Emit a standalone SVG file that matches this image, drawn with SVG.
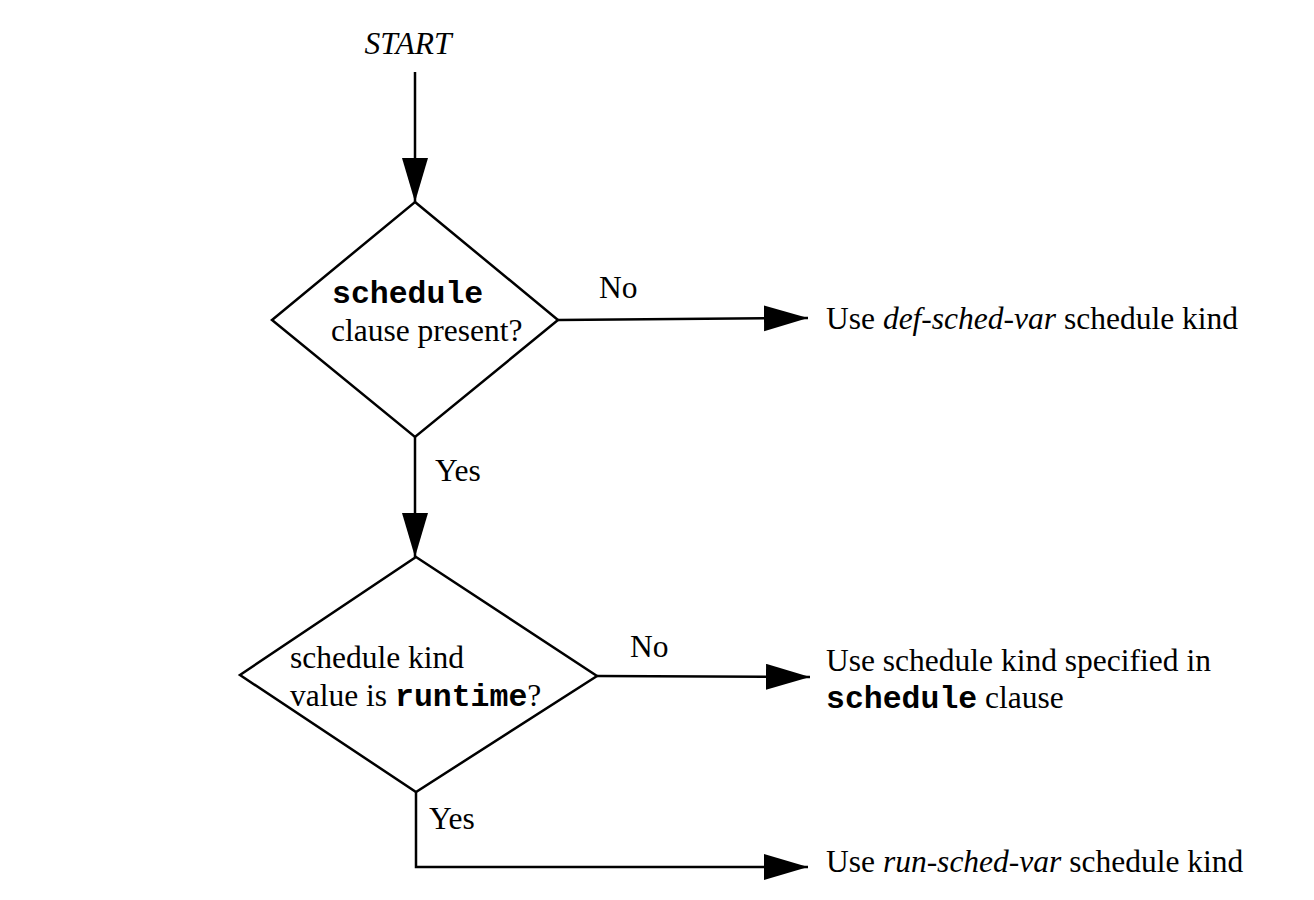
<svg xmlns="http://www.w3.org/2000/svg" width="1314" height="900" viewBox="0 0 1314 900">
<style>
.t{font-family:"Liberation Serif","Times New Roman",serif;font-size:31.5px;fill:#000}
.m{font-family:"Liberation Mono","Courier New",monospace;font-weight:bold}
.i{font-style:italic}
.s{fill:none;stroke:#000;stroke-width:2.5}
.d{fill:#fff;stroke:#000;stroke-width:2.5;stroke-linejoin:miter}
</style>
<defs>
<marker id="ah" markerUnits="userSpaceOnUse" markerWidth="46" markerHeight="28" refX="44" refY="13" orient="auto">
<path d="M0,0 L44,13 L0,26 Z" fill="#000"/>
</marker>
</defs>
<rect width="1314" height="900" fill="#fff"/>
<g id="start"><text class="t i" x="408" y="54" text-anchor="middle">START</text></g>
<g id="q1">
<polygon class="d" points="415,202 558,320 415,437 272,320"/>
<text class="t" x="332" y="303"><tspan class="m">schedule</tspan></text>
<text class="t" x="331" y="341">clause present?</text>
</g>
<g id="r1"><text class="t" x="826" y="329">Use <tspan class="i">def-sched-var</tspan> schedule kind</text></g>
<g id="q2">
<polygon class="d" points="416,557 597,676 416,792 240,675"/>
<text class="t" x="290" y="668">schedule kind</text>
<text class="t" x="290" y="706">value is <tspan class="m">runtime</tspan>?</text>
</g>
<g id="r2">
<text class="t" x="826" y="671">Use schedule kind specified in</text>
<text class="t" x="826" y="708"><tspan class="m">schedule</tspan> clause</text>
</g>
<g id="r3"><text class="t" x="826" y="872">Use <tspan class="i">run-sched-var</tspan> schedule kind</text></g>
<g id="connectors">
<path class="s" d="M415,72 V202" marker-end="url(#ah)"/>
<path class="s" d="M558,320 L808,318" marker-end="url(#ah)"/>
<path class="s" d="M415,437 V557" marker-end="url(#ah)"/>
<path class="s" d="M597,676 L810,677" marker-end="url(#ah)"/>
<path class="s" d="M416,792 V867 H808" marker-end="url(#ah)"/>
<text class="t" x="599" y="298">No</text>
<text class="t" x="435" y="481">Yes</text>
<text class="t" x="630" y="657">No</text>
<text class="t" x="429" y="829">Yes</text>
</g>
</svg>
